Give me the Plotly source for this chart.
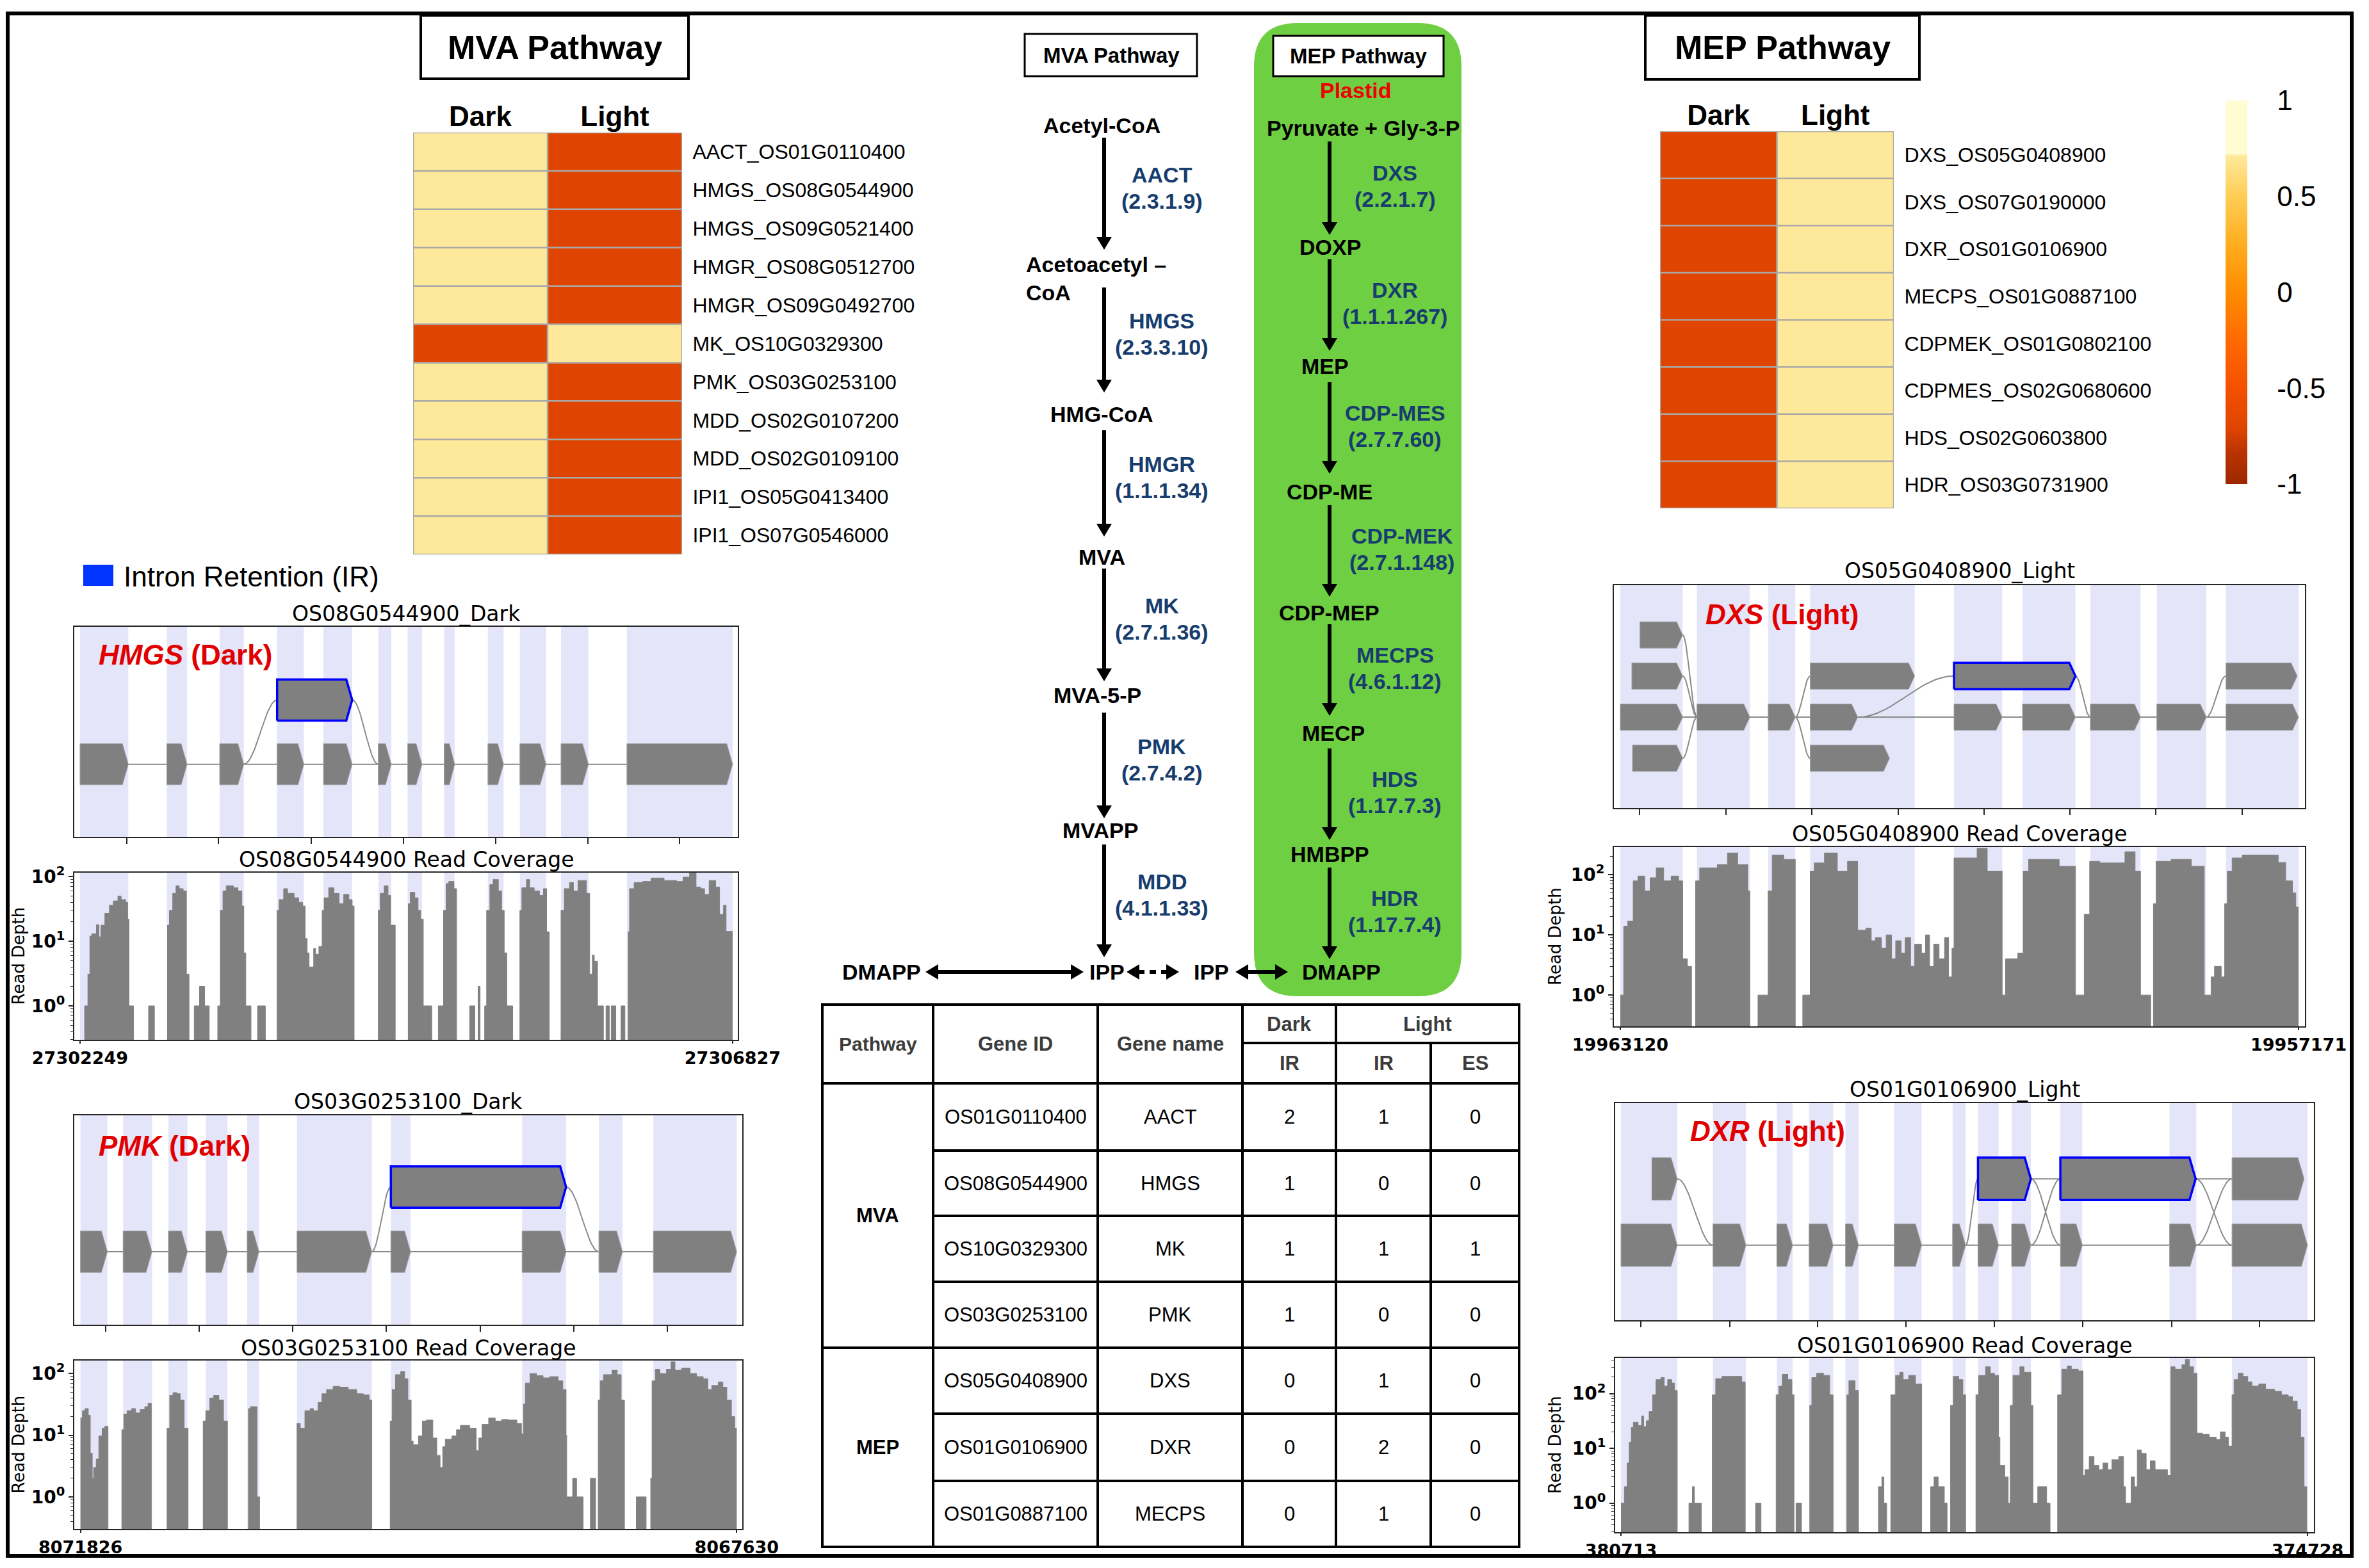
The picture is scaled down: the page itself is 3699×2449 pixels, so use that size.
import math
import plotly.graph_objects as go

W, H = 3699, 2449          # reference canvas (pixels)
OFF = 8                    # page body margin compensation
WF, HF = W - 2 * OFF, H - 2 * OFF
ARIAL = "Liberation Sans, Arial, sans-serif"
MPL = "DejaVu Sans, sans-serif"

# ======================= DATA =======================
conditions = ["Dark", "Light"]

mva_genes = ["AACT_OS01G0110400", "HMGS_OS08G0544900", "HMGS_OS09G0521400",
             "HMGR_OS08G0512700", "HMGR_OS09G0492700", "MK_OS10G0329300",
             "PMK_OS03G0253100", "MDD_OS02G0107200", "MDD_OS02G0109100",
             "IPI1_OS05G0413400", "IPI1_OS07G0546000"]
mva_dark = [0.707, 0.707, 0.707, 0.707, 0.707, -0.707, 0.707, 0.707, 0.707, 0.707, 0.707]
mva_light = [-0.707, -0.707, -0.707, -0.707, -0.707, 0.707, -0.707, -0.707, -0.707, -0.707, -0.707]

mep_genes = ["DXS_OS05G0408900", "DXS_OS07G0190000", "DXR_OS01G0106900",
             "MECPS_OS01G0887100", "CDPMEK_OS01G0802100", "CDPMES_OS02G0680600",
             "HDS_OS02G0603800", "HDR_OS03G0731900"]
mep_dark = [-0.707, -0.707, -0.707, -0.707, -0.707, -0.707, -0.707, -0.707]
mep_light = [0.707, 0.707, 0.707, 0.707, 0.707, 0.707, 0.707, 0.707]

cbar_ticks = [1, 0.5, 0, -0.5, -1]
cbar_ticktext = ["1", "0.5", "0", "-0.5", "-1"]

# pathway diagram
mva_metabolites = ["Acetyl-CoA", "Acetoacetyl –<br>CoA", "HMG-CoA", "MVA", "MVA-5-P", "MVAPP", "IPP"]
mva_enzymes = ["AACT", "HMGS", "HMGR", "MK", "PMK", "MDD"]
mva_ec = ["(2.3.1.9)", "(2.3.3.10)", "(1.1.1.34)", "(2.7.1.36)", "(2.7.4.2)", "(4.1.1.33)"]
mep_metabolites = ["Pyruvate + Gly-3-P", "DOXP", "MEP", "CDP-ME", "CDP-MEP", "MECP", "HMBPP", "DMAPP"]
mep_enzymes = ["DXS", "DXR", "CDP-MES", "CDP-MEK", "MECPS", "HDS", "HDR"]
mep_ec = ["(2.2.1.7)", "(1.1.1.267)", "(2.7.7.60)", "(2.7.1.148)", "(4.6.1.12)", "(1.17.7.3)", "(1.17.7.4)"]

# table of splicing events
tbl_pathway = ["MVA", "MVA", "MVA", "MVA", "MEP", "MEP", "MEP"]
tbl_gene_id = ["OS01G0110400", "OS08G0544900", "OS10G0329300", "OS03G0253100",
               "OS05G0408900", "OS01G0106900", "OS01G0887100"]
tbl_gene_name = ["AACT", "HMGS", "MK", "PMK", "DXS", "DXR", "MECPS"]
tbl_dark_ir = [2, 1, 1, 1, 0, 0, 0]
tbl_light_ir = [1, 0, 1, 0, 1, 2, 1]
tbl_light_es = [0, 0, 1, 0, 0, 0, 0]

# gene models: positions in 1/1000 of plotted locus; (start, end, track)
hmgs_exons = [(0, 74, 0), (133, 164, 0), (214, 251, 0), (302, 343, 0), (373, 417, 0), (457, 477, 0),
              (502, 524, 0), (558, 574, 0), (625, 649, 0), (674, 714, 0), (737, 779, 0), (838, 1000, 0)]
hmgs_ir = [(302, 417, 1)]
hmgs_junctions = [(74, 0, 838, 0), (251, 0, 302, 1), (417, 1, 457, 0)]
hmgs_locus = ["27302249", "27306827"]
hmgs_cov = [(0, 0), (7, 1), (12, 3.1), (15, 12), (18, 13), (25, 18), (29, 11.7), (32, 17.7), (38, 27),
            (45, 36), (51, 42), (58, 50), (63, 44), (70, 40), (73, 22), (75, 1), (82, 0), (105, 1),
            (114, 0), (134, 17.7), (137, 30), (142, 55), (147, 72), (152, 65), (158, 60), (163, 3.1),
            (167, 0), (175, 1), (183, 2), (191, 1), (198, 0), (211, 1), (215, 30), (219, 60), (224, 72),
            (235, 67), (242, 60), (248, 35), (251, 6.6), (254, 1), (262, 0), (272, 1), (284, 0),
            (302, 30), (305, 44), (312, 65), (318, 55), (328, 47), (335, 40), (341, 35), (345, 11),
            (348, 6.6), (351, 4), (358, 7.7), (361, 6.3), (366, 8.3), (371, 30), (374, 47), (381, 67),
            (389, 55), (397, 38), (404, 53), (412, 44), (417, 35), (420, 0), (457, 30), (460, 55),
            (466, 72), (472, 51), (476, 17.7), (483, 0), (503, 38), (506, 57), (513, 47), (518, 30),
            (522, 22), (526, 1), (539, 0), (549, 1), (557, 30), (561, 78), (565, 84), (573, 65),
            (577, 0), (597, 1), (605, 0), (610, 2), (613, 0), (620, 1), (623, 30), (628, 75), (633, 90),
            (641, 60), (646, 30), (650, 6.6), (654, 1), (663, 0), (674, 30), (677, 67), (684, 90),
            (689, 67), (696, 60), (704, 51), (710, 65), (715, 14), (719, 0), (737, 30), (742, 65),
            (750, 81), (756, 60), (763, 87), (776, 55), (781, 3.1), (785, 6.1), (788, 4.9), (793, 1),
            (802, 0), (806, 1), (811, 0), (814, 1), (821, 0), (829, 1), (835, 0), (840, 14), (842, 65),
            (849, 81), (862, 84), (875, 95), (895, 87), (914, 84), (924, 98), (934, 114), (944, 69),
            (951, 65), (957, 53), (964, 87), (974, 69), (980, 26), (986, 36), (990, 14.2)]

pmk_exons = [(0, 41, 0), (65, 109, 0), (134, 163, 0), (191, 224, 0), (254, 272, 0), (330, 444, 0),
             (473, 503, 0), (673, 740, 0), (790, 826, 0), (873, 1000, 0)]
pmk_ir = [(473, 740, 1)]
pmk_junctions = [(41, 0, 873, 0), (444, 0, 473, 1), (740, 1, 790, 0)]
pmk_locus = ["8071826", "8067630"]
pmk_cov = [(0, 19), (3, 25), (7, 27), (12, 21), (15, 5.1), (18, 2), (20, 3), (24, 4.1), (28, 9.7),
           (33, 13), (37, 13.9), (42, 0), (63, 12.3), (66, 22), (71, 25), (78, 27), (84, 23), (91, 26),
           (98, 29), (103, 33), (108, 0), (132, 13), (136, 44), (141, 49), (147, 47), (152, 37),
           (158, 13), (164, 0), (187, 17), (191, 25), (197, 40), (203, 44), (211, 37), (218, 17),
           (224, 0), (256, 27), (259, 29), (269, 1), (273, 0), (330, 15.5), (335, 13), (342, 25),
           (350, 27), (355, 25), (362, 34), (368, 47), (375, 55), (385, 62), (395, 60), (408, 55),
           (421, 47), (431, 45), (440, 37), (444, 0), (472, 17), (475, 55), (480, 96), (488, 108),
           (494, 82), (499, 37), (504, 8), (507, 7), (515, 9.7), (521, 17), (527, 17.6), (537, 9),
           (543, 4.7), (548, 3), (552, 6.5), (556, 8.6), (566, 9.7), (573, 12.3), (579, 14.4),
           (593, 13), (603, 5.6), (607, 9), (612, 15), (622, 19), (632, 17), (642, 18), (652, 17.6),
           (665, 15.5), (672, 10.5), (675, 32), (678, 70), (685, 100), (695, 92), (705, 85), (715, 89),
           (728, 76), (735, 55), (740, 10), (741, 1), (750, 2), (756, 1), (766, 0), (777, 2), (785, 0),
           (789, 37), (792, 76), (797, 96), (810, 113), (818, 96), (824, 37), (829, 0), (847, 1),
           (862, 0), (869, 2), (871, 76), (876, 117), (883, 100), (893, 117), (900, 155), (906, 113),
           (916, 122), (929, 100), (939, 89), (949, 82), (956, 55), (962, 64), (972, 73), (979, 60),
           (985, 37), (992, 20), (997, 13)]

dxs_exons = [(29, 92, 2), (17, 92, 1), (280, 434, 1), (893, 998, 1), (0, 92, 0), (113, 191, 0),
             (218, 258, 0), (280, 350, 0), (492, 563, 0), (593, 671, 0), (693, 767, 0), (791, 864, 0),
             (893, 1000, 0), (18, 92, -1), (280, 397, -1)]
dxs_ir = [(492, 671, 1)]
dxs_junctions = [(92, 0, 893, 0), (92, 2, 113, 0), (92, 1, 113, 0), (92, -1, 113, 0), (258, 0, 280, 1),
                 (258, 0, 280, -1), (350, 0, 492, 1), (671, 1, 693, 0), (864, 0, 893, 1)]
dxs_locus = ["19963120", "19957171"]
dxs_cov = [(0, 1), (5, 14), (11, 17), (19, 79), (26, 95), (36, 54), (44, 89), (53, 130), (64, 79),
           (75, 95), (86, 79), (92, 4), (99, 3), (105, 0), (111, 79), (117, 130), (143, 147), (158, 230),
           (173, 147), (188, 54), (191, 0), (203, 1), (218, 54), (224, 213), (241, 180), (258, 0),
           (269, 1), (280, 115), (286, 157), (301, 230), (320, 115), (335, 167), (350, 12), (362, 13),
           (370, 8), (376, 9), (385, 6), (392, 10), (400, 4), (406, 8), (414, 5), (420, 9), (428, 3),
           (434, 7), (444, 5), (450, 10), (456, 3), (462, 7), (470, 4), (478, 9), (484, 2), (489, 6),
           (492, 190), (526, 275), (541, 115), (563, 1), (568, 4), (586, 5), (594, 115), (602, 180),
           (647, 138), (671, 1), (684, 22), (692, 167), (707, 157), (744, 241), (759, 115), (767, 1),
           (782, 0), (786, 33), (790, 167), (812, 180), (842, 138), (861, 1), (871, 2), (876, 3),
           (886, 2), (891, 33), (895, 115), (902, 190), (917, 213), (970, 160), (981, 79), (991, 50),
           (996, 29)]

dxr_exons = [(45, 82, 1), (890, 995, 1), (0, 82, 0), (134, 182, 0), (227, 250, 0), (274, 309, 0),
             (327, 346, 0), (398, 438, 0), (483, 502, 0), (520, 550, 0), (569, 597, 0), (640, 672, 0),
             (799, 838, 0), (890, 1000, 0)]
dxr_ir = [(520, 597, 1), (640, 837, 1)]
dxr_junctions = [(82, 0, 890, 0), (82, 1, 134, 0), (502, 0, 520, 1), (597, 1, 640, 1), (597, 1, 640, 0),
                 (597, 0, 640, 1), (837, 1, 890, 1), (837, 1, 890, 0), (838, 0, 890, 1)]
dxr_locus = ["380713", "374728"]
dxr_cov = [(0, 1), (5, 2), (9, 5.4), (12, 13), (15, 24), (18, 30), (25, 26), (30, 39), (33, 25),
           (37, 32), (41, 47), (46, 95), (51, 180), (58, 196), (63, 137), (68, 180), (74, 156),
           (78, 114), (82, 0), (99, 1), (104, 2), (107, 1), (117, 0), (133, 95), (138, 188), (147, 206),
           (166, 206), (176, 164), (181, 0), (196, 1), (204, 0), (226, 95), (230, 137), (235, 225),
           (243, 180), (249, 95), (252, 0), (255, 1), (263, 0), (275, 61), (278, 196), (285, 235),
           (295, 215), (304, 95), (309, 0), (329, 95), (332, 172), (341, 114), (346, 0), (375, 2),
           (380, 3), (383, 1), (387, 0), (393, 95), (400, 215), (406, 245), (411, 180), (419, 215),
           (429, 150), (438, 0), (451, 2), (456, 3), (462, 2), (471, 1), (475, 0), (480, 61), (484, 206),
           (492, 180), (498, 95), (502, 0), (517, 95), (521, 215), (531, 309), (538, 235), (544, 215),
           (550, 16), (552, 4.9), (559, 3), (564, 1), (567, 61), (571, 215), (581, 309), (587, 245),
           (597, 61), (600, 1), (607, 2), (620, 1), (625, 0), (636, 95), (642, 280), (650, 320),
           (656, 280), (666, 260), (673, 3.2), (676, 4.1), (682, 7.1), (689, 4.9), (696, 4.1),
           (702, 5.4), (709, 4.1), (715, 6.2), (725, 7.1), (732, 2), (735, 1), (743, 3), (748, 2),
           (752, 9.3), (758, 8.1), (765, 4.1), (771, 5.9), (778, 4.1), (796, 3.2), (801, 309),
           (807, 280), (817, 336), (822, 420), (828, 309), (834, 235), (839, 19), (847, 18), (857, 16),
           (867, 14.5), (873, 20), (880, 16), (885, 11), (890, 95), (893, 180), (899, 235), (906, 206),
           (913, 164), (919, 137), (929, 150), (939, 120), (952, 110), (962, 95), (972, 88), (978, 73),
           (985, 51), (990, 16), (995, 2), (999, 0)]

# ======================= LAYOUT HELPERS =======================
def dx(a, b):
    return [(a - OFF) / WF, (b - OFF) / WF]


def dy(top, bottom):
    return [1 - (bottom - OFF) / HF, 1 - (top - OFF) / HF]


shapes = []
annotations = []
CV = dict(xref="x11", yref="y11")


def text(x, y, s, size, color="black", family=ARIAL, xanchor="center", yanchor="middle",
         angle=0, align="center"):
    annotations.append(dict(x=x, y=y, text=s, showarrow=False, xanchor=xanchor, yanchor=yanchor,
                            textangle=angle, align=align,
                            font=dict(size=size, color=color, family=family), **CV))


def rect(x0, y0, x1, y1, lw=4, color="black", fill="rgba(0,0,0,0)"):
    shapes.append(dict(type="rect", x0=x0, y0=y0, x1=x1, y1=y1, fillcolor=fill,
                       line=dict(color=color, width=lw), **CV))


def hline(x0, x1, y, lw=4, color="black"):
    shapes.append(dict(type="line", x0=x0, x1=x1, y0=y, y1=y, line=dict(color=color, width=lw), **CV))


def vline(x, y0, y1, lw=4, color="black"):
    shapes.append(dict(type="line", x0=x, x1=x, y0=y0, y1=y1, line=dict(color=color, width=lw), **CV))


def arrow(x0, y0, x1, y1, start_head=False, end_head=True, lw=6, L=20, hw=12, dash=None):
    ddx, ddy = x1 - x0, y1 - y0
    ln = math.hypot(ddx, ddy)
    ux, uy = ddx / ln, ddy / ln
    nx, ny = -uy, ux
    sx, sy, ex, ey = x0, y0, x1, y1
    if start_head:
        sx, sy = x0 + ux * L * 0.9, y0 + uy * L * 0.9
    if end_head:
        ex, ey = x1 - ux * L * 0.9, y1 - uy * L * 0.9
    ln_d = dict(color="black", width=lw)
    if dash:
        ln_d["dash"] = dash
    shapes.append(dict(type="line", x0=sx, y0=sy, x1=ex, y1=ey, line=ln_d, **CV))
    heads = []
    if end_head:
        heads.append((x1, y1, 1))
    if start_head:
        heads.append((x0, y0, -1))
    for tx, ty, sg in heads:
        bx, by = tx - sg * ux * L, ty - sg * uy * L
        p = (f"M{tx},{ty} L{bx + nx * hw},{by + ny * hw} L{bx - nx * hw},{by - ny * hw} Z")
        shapes.append(dict(type="path", path=p, fillcolor="black", line=dict(width=0), **CV))


fig = go.Figure()
layout = dict(width=WF, height=HF, margin=dict(l=0, r=0, t=0, b=0), paper_bgcolor="white",
              plot_bgcolor="rgba(0,0,0,0)", showlegend=False)

# canvas axis (reference pixel space) for diagram/table/frames
layout["xaxis11"] = dict(domain=[0, 1], range=[OFF, OFF + WF], visible=False, fixedrange=True,
                         anchor="y11")
layout["yaxis11"] = dict(domain=[0, 1], range=[OFF + HF, OFF], visible=False, fixedrange=True,
                         anchor="x11")
fig.add_trace(go.Scatter(x=[], y=[], xaxis="x11", yaxis="y11", hoverinfo="skip"))

# ======================= HEATMAPS =======================
cscale = [[0.0, "#9c2800"], [0.08, "#b83300"], [0.1465, "#df4500"], [0.25, "#f45000"],
          [0.375, "#ff6a00"], [0.5, "#ff8c00"], [0.625, "#ffad1f"], [0.75, "#ffcd55"],
          [0.855, "#fee89a"], [0.862, "#fffcd4"], [1.0, "#fffcd4"]]


def add_heatmap(xn, yn, genes, dark, light, xdom, ydom, showscale):
    n = len(genes)
    z = [[d, l] for d, l in zip(dark, light)]
    tr = go.Heatmap(z=z, x=[0, 1], y=list(range(n)), colorscale=cscale, zmin=-1, zmax=1,
                    xaxis="x" + xn, yaxis="y" + yn, hoverinfo="skip", showscale=showscale)
    if showscale:
        tr.colorbar = dict(x=(3475 - OFF) / WF, xanchor="left", y=1 - (456.5 - OFF) / HF,
                           yanchor="middle", len=599, lenmode="pixels", thickness=34,
                           thicknessmode="pixels", xpad=0, ypad=0, outlinewidth=0,
                           tickvals=cbar_ticks, ticktext=cbar_ticktext, ticks="outside", ticklen=38,
                           tickcolor="rgba(0,0,0,0)",
                           tickfont=dict(size=44, family=ARIAL, color="black"))
    fig.add_trace(tr)
    layout["xaxis" + xn] = dict(domain=xdom, range=[-0.5, 1.5], side="top", tickvals=[0, 1],
                                ticktext=["<b>%s</b>" % c for c in conditions],
                                tickfont=dict(size=44, family=ARIAL, color="black"),
                                ticks="", showgrid=False, zeroline=False, anchor="y" + yn,
                                fixedrange=True, automargin=False)
    layout["yaxis" + yn] = dict(domain=ydom, range=[n - 0.5, -0.5], side="right",
                                tickvals=list(range(n)), ticktext=genes,
                                tickfont=dict(size=32, family=ARIAL, color="black"),
                                ticks="outside", ticklen=9, tickcolor="rgba(0,0,0,0)",
                                showgrid=False, zeroline=False, anchor="x" + xn,
                                fixedrange=True, automargin=False)
    xr, yr = "x" + xn, "y" + yn
    for xv in [-0.5, 0.5, 1.5]:
        shapes.append(dict(type="line", xref=xr, yref=yr, x0=xv, x1=xv, y0=-0.5, y1=n - 0.5,
                           line=dict(color="#a9a9a9", width=2.5)))
    for k in range(n + 1):
        shapes.append(dict(type="line", xref=xr, yref=yr, x0=-0.5, x1=1.5, y0=k - 0.5, y1=k - 0.5,
                           line=dict(color="#a9a9a9", width=2.5)))


add_heatmap("", "", mva_genes, mva_dark, mva_light, dx(645, 1065), dy(207, 866), False)
add_heatmap("2", "2", mep_genes, mep_dark, mep_light, dx(2592, 2957), dy(205, 794), True)

# heatmap title boxes
rect(657, 24, 1075, 123, lw=4)
text(866, 74, "<b>MVA Pathway</b>", 52)
rect(2569, 24, 2997, 124, lw=4)
text(2783, 74, "<b>MEP Pathway</b>", 52)

# IR legend
rect(130, 882, 177, 915, lw=0, fill="#0034ff")
text(191, 900, "Intron Retention (IR)", 44, xanchor="left")

# ======================= GENE PANELS =======================
panels = [
    dict(exons=hmgs_exons, ir=hmgs_ir, junc=hmgs_junctions, cov=hmgs_cov, locus=hmgs_locus,
         gid="OS08G0544900", cond="Dark", sym="HMGS",
         bx=(116, 1152), gy=(979, 1307), cy=(1363, 1624), xr=(-8.8, 1007.9), yr=(-1.13, 2.14),
         cr=(-0.525, 2.06), ticks=[72, 212, 354, 496, 637, 778, 919], ty=(958, 1342),
         lab=(152, 1022), rdx=28),
    dict(exons=pmk_exons, ir=pmk_ir, junc=pmk_junctions, cov=pmk_cov, locus=pmk_locus,
         gid="OS03G0253100", cond="Dark", sym="PMK",
         bx=(116, 1159), gy=(1742, 2069), cy=(2125, 2388), xr=(-9.4, 1008.5), yr=(-1.13, 2.11),
         cr=(-0.52, 2.21), ticks=[38, 181, 323, 466, 609, 752, 894], ty=(1720, 2105),
         lab=(152, 1789), rdx=28),
    dict(exons=dxs_exons, ir=dxs_ir, junc=dxs_junctions, cov=dxs_cov, locus=dxs_locus,
         gid="OS05G0408900", cond="Light", sym="DXS",
         bx=(2520, 3599), gy=(914, 1262), cy=(1323, 1603), xr=(-9.4, 1009.4), yr=(-2.21, 3.21),
         cr=(-0.52, 2.46), ticks=[28, 156, 282, 410, 536, 663, 789, 917], ty=(891, 1302),
         lab=(2661, 959), rdx=2428),
    dict(exons=dxr_exons, ir=dxr_ir, junc=dxr_junctions, cov=dxr_cov, locus=dxr_locus,
         gid="OS01G0106900", cond="Light", sym="DXR",
         bx=(2522, 3613), gy=(1723, 2062), cy=(2121, 2393), xr=(-8.4, 1009.3), yr=(-1.13, 2.14),
         cr=(-0.53, 2.65), ticks=[29, 159, 286, 415, 544, 673, 802, 930], ty=(1701, 2101),
         lab=(2637, 1766), rdx=2428),
]

GRAY = "#808080"
BAND = "rgb(229,229,250)"
AXC = "#262626"


def exon_path(ex_list, h=0.32, d=9):
    xs, ys = [], []
    for x0, x1, lv in ex_list:
        dd = min(d, (x1 - x0) * 0.5)
        xs += [x0, x1 - dd, x1, x1 - dd, x0, x0, None]
        ys += [lv - h, lv - h, lv, lv + h, lv + h, lv - h, None]
    return xs, ys


def merged_bands(ex_list):
    iv = sorted((a, b) for a, b, _ in ex_list)
    out = []
    for a, b in iv:
        if out and a <= out[-1][1]:
            out[-1][1] = max(out[-1][1], b)
        else:
            out.append([a, b])
    return out


for i, p in enumerate(panels):
    gx, gyn = str(3 + 2 * i), str(3 + 2 * i)
    cx, cyn = str(4 + 2 * i), str(4 + 2 * i)
    xdom = dx(*p["bx"])
    layout["xaxis" + gx] = dict(domain=xdom, range=list(p["xr"]), anchor="y" + gyn, showline=True,
                                mirror=True, linecolor=AXC, linewidth=2, ticks="outside", ticklen=9,
                                tickwidth=2, tickcolor=AXC, tickvals=p["ticks"], showticklabels=False,
                                showgrid=False, zeroline=False, fixedrange=True, automargin=False)
    layout["yaxis" + gyn] = dict(domain=dy(*p["gy"]), range=list(p["yr"]), anchor="x" + gx,
                                 showline=True, mirror=True, linecolor=AXC, linewidth=2,
                                 showticklabels=False, ticks="", showgrid=False, zeroline=False,
                                 fixedrange=True, automargin=False)
    lo, hi = p["cr"]
    minor = [m * 10 ** e for e in range(-1, 3) for m in range(2, 10)
             if lo <= math.log10(m * 10 ** e) <= hi]
    layout["xaxis" + cx] = dict(domain=xdom, range=list(p["xr"]), anchor="y" + cyn, showline=True,
                                mirror=True, linecolor=AXC, linewidth=2, ticks="outside", ticklen=4,
                                tickwidth=2, tickcolor=AXC, tickvals=[0, 1000],
                                ticktext=["<b>%s</b>" % s for s in p["locus"]],
                                tickfont=dict(size=27, family=MPL, color="black"),
                                showgrid=False, zeroline=False, fixedrange=True, automargin=False)
    layout["yaxis" + cyn] = dict(domain=dy(*p["cy"]), type="log", range=[lo, hi], anchor="x" + cx,
                                 showline=True, mirror=True, linecolor=AXC, linewidth=2,
                                 ticks="outside", ticklen=7, tickwidth=2, tickcolor=AXC,
                                 tickvals=[1, 10, 100],
                                 ticktext=["<b>10<sup>0</sup></b>", "<b>10<sup>1</sup></b>",
                                           "<b>10<sup>2</sup></b>"],
                                 tickfont=dict(size=28, family=MPL, color="black"),
                                 minor=dict(ticks="outside", ticklen=4, tickwidth=1, tickcolor=AXC,
                                            tickvals=minor),
                                 showgrid=False, zeroline=False, fixedrange=True, automargin=False)
    for a, b in merged_bands(p["exons"]):
        for xx, yy in [(gx, gyn), (cx, cyn)]:
            shapes.append(dict(type="rect", xref="x" + xx, yref="y" + yy + " domain", x0=a, x1=b,
                               y0=0, y1=1, fillcolor=BAND, line=dict(width=0), layer="below"))
    jx, jy = [], []
    for x0, l0, x1, l1 in p["junc"]:
        if l0 == l1:
            jx += [x0, x1, None]
            jy += [l0, l1, None]
        else:
            n = 30
            for k in range(n + 1):
                t = k / n
                jx.append(x0 + (x1 - x0) * t)
                jy.append(l0 + (l1 - l0) * (1 - math.cos(math.pi * t)) / 2)
            jx.append(None)
            jy.append(None)
    fig.add_trace(go.Scatter(x=jx, y=jy, mode="lines", line=dict(color="#8a8a8a", width=2),
                             xaxis="x" + gx, yaxis="y" + gyn, hoverinfo="skip"))
    ex_x, ex_y = exon_path(p["exons"])
    fig.add_trace(go.Scatter(x=ex_x, y=ex_y, mode="lines", fill="toself", fillcolor=GRAY,
                             line=dict(color="#a3a3a3", width=1), xaxis="x" + gx, yaxis="y" + gyn,
                             hoverinfo="skip"))
    ir_x, ir_y = exon_path(p["ir"])
    fig.add_trace(go.Scatter(x=ir_x, y=ir_y, mode="lines", fill="toself", fillcolor=GRAY,
                             line=dict(color="#0000ff", width=3.5), xaxis="x" + gx, yaxis="y" + gyn,
                             hoverinfo="skip"))
    cxs = [c[0] for c in p["cov"]] + [1000]
    cys = [c[1] if c[1] > 0 else 1e-3 for c in p["cov"]]
    cys.append(cys[-1])
    fig.add_trace(go.Scatter(x=[0, 1000], y=[1e-3, 1e-3], mode="lines", line=dict(width=0),
                             xaxis="x" + cx, yaxis="y" + cyn, hoverinfo="skip"))
    fig.add_trace(go.Scatter(x=cxs, y=cys, mode="lines", line=dict(color=GRAY, width=1, shape="hv"),
                             fill="tonexty", fillcolor=GRAY, xaxis="x" + cx, yaxis="y" + cyn,
                             hoverinfo="skip"))
    xc = (p["bx"][0] + p["bx"][1]) / 2
    text(xc, p["ty"][0], "%s_%s" % (p["gid"], p["cond"]), 33, family=MPL)
    text(xc, p["ty"][1], "%s Read Coverage" % p["gid"], 33, family=MPL)
    text(p["lab"][0], p["lab"][1], "<b><i>%s</i> (%s)</b>" % (p["sym"], p["cond"]), 44,
         color="#e00000", xanchor="left")
    text(p["rdx"], (p["cy"][0] + p["cy"][1]) / 2, "Read Depth", 26, family=MPL, angle=-90)

# ======================= PATHWAY DIAGRAM =======================
NAVY = "#173d6e"
rect(1600, 53, 1869, 119, lw=3)
text(1735, 86, "<b>MVA Pathway</b>", 33)
mva_node_x = [1720, 1600, 1720, 1720, 1713, 1718, 1728]
mva_node_y = [196, 435, 647, 870, 1086, 1297, 1518]
mva_arrow_y = [(215, 390), (449, 613), (672, 838), (888, 1064), (1113, 1278), (1319, 1495)]
for k, name in enumerate(mva_metabolites):
    if "<br>" in name:
        text(mva_node_x[k], mva_node_y[k], "<b>%s</b>" % name, 34, xanchor="left", align="left")
    else:
        text(mva_node_x[k], mva_node_y[k], "<b>%s</b>" % name, 34)
for k, (a, b) in enumerate(mva_arrow_y):
    arrow(1724, a, 1724, b)
    mid = (a + b) / 2
    text(1814, mid - 30, "<b>%s</b>" % mva_enzymes[k], 34, color=NAVY)
    text(1814, mid + 11, "<b>%s</b>" % mva_ec[k], 34, color=NAVY)

gx0, gy0, gx1, gy1, r = 1958, 36, 2282, 1556, 68
shapes.append(dict(type="path", fillcolor="#6fcf43", line=dict(width=0), layer="below",
                   path=(f"M{gx0 + r},{gy0} L{gx1 - r},{gy0} Q{gx1},{gy0} {gx1},{gy0 + r} "
                         f"L{gx1},{gy1 - r} Q{gx1},{gy1} {gx1 - r},{gy1} L{gx0 + r},{gy1} "
                         f"Q{gx0},{gy1} {gx0},{gy1 - r} L{gx0},{gy0 + r} Q{gx0},{gy0} {gx0 + r},{gy0} Z"),
                   **CV))
rect(1988, 56, 2254, 119, lw=3, fill="white")
text(2121, 87, "<b>MEP Pathway</b>", 33)
text(2116, 141, "<b>Plastid</b>", 34, color="#ee0000")
mep_node_x = [2128, 2077, 2069, 2076, 2075, 2082, 2076, 2094]
mep_node_y = [200, 386, 572, 768, 957, 1145, 1334, 1518]
mep_arrow_y = [(221, 367), (405, 548), (597, 740), (789, 932), (975, 1118), (1169, 1312), (1355, 1498)]
for k, name in enumerate(mep_metabolites):
    text(mep_node_x[k], mep_node_y[k], "<b>%s</b>" % name, 34)
for k, (a, b) in enumerate(mep_arrow_y):
    arrow(2076, a, 2076, b)
    mid = (a + b) / 2
    ex = 2189 if mep_enzymes[k] == "CDP-MEK" else 2178
    text(ex, mid - 24, "<b>%s</b>" % mep_enzymes[k], 34, color=NAVY)
    text(ex, mid + 17, "<b>%s</b>" % mep_ec[k], 34, color=NAVY)

text(1376, 1518, "<b>DMAPP</b>", 34)
text(1891, 1518, "<b>IPP</b>", 34)
arrow(1445, 1518, 1692, 1518, start_head=True)
arrow(1759, 1518, 1841, 1518, start_head=True, dash="10px,8px")
arrow(1929, 1518, 2011, 1518, start_head=True)

# ======================= TABLE =======================
col_x = [1284, 1457, 1714, 1940, 2086, 2234, 2372]
row_y = [1569, 1692, 1797, 1899, 2002, 2105, 2208, 2313, 2416]
split_y = 1629
HC = "#3c3c3c"
rect(col_x[0], row_y[0], col_x[-1], row_y[-1], lw=4)
for c in [1, 2, 3, 4]:
    vline(col_x[c], row_y[0], row_y[-1])
vline(col_x[5], split_y, row_y[-1])
hline(col_x[3], col_x[-1], split_y)
hline(col_x[0], col_x[-1], row_y[1])
groups = []
for k, pw in enumerate(tbl_pathway):
    if groups and groups[-1][0] == pw:
        groups[-1][2] = k
    else:
        groups.append([pw, k, k])
group_ends = {g[2] for g in groups}
for k in range(len(tbl_pathway) - 1):
    x_start = col_x[0] if k in group_ends else col_x[1]
    hline(x_start, col_x[-1], row_y[k + 2])
hc = (row_y[0] + row_y[1]) / 2
text((col_x[0] + col_x[1]) / 2, hc, "<b>Pathway</b>", 30, color=HC)
text((col_x[1] + col_x[2]) / 2, hc, "<b>Gene ID</b>", 31, color=HC)
text((col_x[2] + col_x[3]) / 2, hc, "<b>Gene name</b>", 31, color=HC)
text((col_x[3] + col_x[4]) / 2, (row_y[0] + split_y) / 2, "<b>Dark</b>", 31, color=HC)
text((col_x[4] + col_x[6]) / 2, (row_y[0] + split_y) / 2, "<b>Light</b>", 31, color=HC)
for c, lab in [(3, "IR"), (4, "IR"), (5, "ES")]:
    text((col_x[c] + col_x[c + 1]) / 2, (split_y + row_y[1]) / 2, "<b>%s</b>" % lab, 31, color=HC)
for pw, k0, k1 in groups:
    text((col_x[0] + col_x[1]) / 2, (row_y[k0 + 1] + row_y[k1 + 2]) / 2, "<b>%s</b>" % pw, 31)
for k in range(len(tbl_gene_id)):
    yc = (row_y[k + 1] + row_y[k + 2]) / 2
    vals = [tbl_gene_id[k], tbl_gene_name[k], str(tbl_dark_ir[k]), str(tbl_light_ir[k]),
            str(tbl_light_es[k])]
    for c, v in enumerate(vals):
        text((col_x[c + 1] + col_x[c + 2]) / 2, yc, v, 31)

rect(12, 21, 3672, 2430, lw=6)

layout["shapes"] = shapes
layout["annotations"] = annotations
fig.update_layout(**layout)
fig.write_html("out.html")
